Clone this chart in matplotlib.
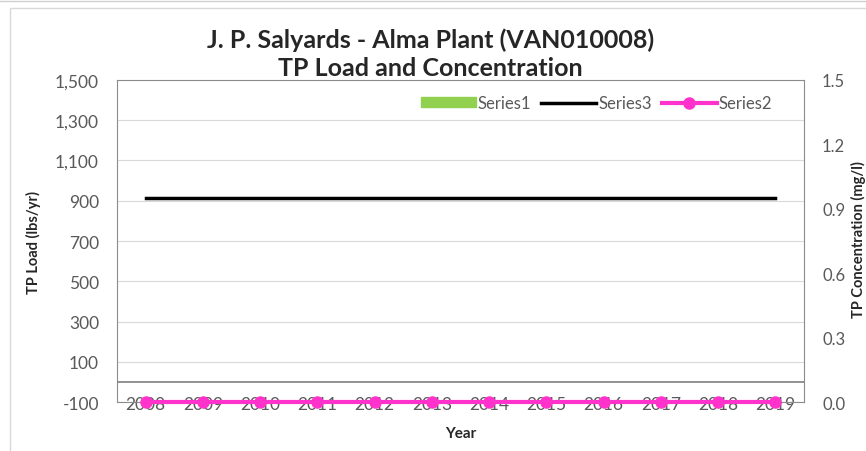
import matplotlib
matplotlib.use("Agg")
from matplotlib import pyplot as plt
from matplotlib.patches import Rectangle
from matplotlib.lines import Line2D
import numpy as np

# data
years = ['2008', '2009', '2010', '2011', '2012', '2013',
         '2014', '2015', '2016', '2017', '2018', '2019']
series1 = [0, 0, 0, 0, 0, 0, 0, 0, 0, 0, 0, 0]          # TP load (bars)
series3 = [915, 915, 915, 915, 915, 915, 915, 915, 915, 915, 915, 915]  # limit
series2 = [0, 0, 0, 0, 0, 0, 0, 0, 0, 0, 0, 0]          # concentration (mg/l)

left_ticks = [-100, 100, 300, 500, 700, 900, 1100, 1300, 1500]
right_ticks = [0.0, 0.3, 0.6, 0.9, 1.2, 1.5]

plt.rcParams['font.family'] = ['Lato', 'DejaVu Sans']
grey = '#595959'

fig = plt.figure(figsize=(8.66, 4.52), dpi=100)
# outer chart frame like the spreadsheet screenshot
fig.add_artist(Line2D([0, 1], [0.995, 0.995], transform=fig.transFigure, color='#d0d0d0', lw=1))
fig.add_artist(Rectangle((0.012, -0.05), 1.1, 1.03, transform=fig.transFigure,
                         fill=False, edgecolor='#d9d9d9', lw=1))

ax = fig.add_axes([0.1351, 0.1084, 0.7933, 0.7124])
x = np.arange(len(years))

ax.bar(x, series1, width=0.6, color='#92D050', label='Series1')
ax.plot(x, series3, color='black', lw=2.5, label='Series3')
ax.axhline(0, color='#7f7f7f', lw=1.2, zorder=3)

ax.set_xlim(-0.5, len(years) - 0.5)
ax.set_ylim(-100, 1500)
ax.set_yticks(left_ticks)
ax.set_yticklabels(['{:,}'.format(v) for v in left_ticks])
ax.set_xticks(x)
ax.set_xticklabels(years)
ax.yaxis.grid(True, color='#d9d9d9', lw=0.8)
ax.set_axisbelow(True)
for s in ax.spines.values():
    s.set_color('#8c8c8c')
ax.tick_params(axis='y', colors=grey, labelsize=12.5, length=0, pad=13)
ax.tick_params(axis='x', colors=grey, labelsize=12.5, length=0, pad=-4.5)
for t in ax.get_xticklabels():
    t.set_zorder(10)

ax2 = ax.twinx()
ax2.plot(x, series2, color='#FF33CC', lw=3, marker='o', ms=8, label='Series2',
         clip_on=False, zorder=2)
ax2.set_ylim(0, 1.5)
ax2.set_yticks(right_ticks)
ax2.set_yticklabels(['{:.1f}'.format(v) for v in right_ticks])
ax2.tick_params(axis='y', colors=grey, labelsize=12, length=0, pad=13)
for s in ax2.spines.values():
    s.set_visible(False)

ax.set_ylabel('TP Load (lbs/yr)', fontsize=10.5, fontweight='bold', color='#262626', labelpad=10)
ax.set_xlabel('Year', fontsize=11, fontweight='bold', color='#262626', labelpad=10)
fig.text(0.991, 0.47, 'TP Concentration (mg/l)', rotation=90, ha='center', va='center',
         fontsize=10.5, fontweight='bold', color='#262626')

fig.text(0.497, 0.910, 'J. P. Salyards - Alma Plant (VAN010008)', ha='center', va='center',
         fontsize=18, fontweight='bold', color='#262626')
fig.text(0.497, 0.849, 'TP Load and Concentration', ha='center', va='center',
         fontsize=18, fontweight='bold', color='#262626')

handles = [Rectangle((0, 0), 1, 1, color='#92D050'),
           Line2D([], [], color='black', lw=2.5),
           Line2D([], [], color='#FF33CC', lw=3, marker='o', ms=8)]
leg = ax.legend(handles, ['Series1', 'Series3', 'Series2'], loc='upper right',
                ncol=3, frameon=False, fontsize=12, handlelength=3.3, handleheight=0.5,
                handletextpad=0.1, columnspacing=0.6, bbox_to_anchor=(0.975, 1.0))
for t in leg.get_texts():
    t.set_color(grey)

fig.savefig('out.png', dpi=100)
